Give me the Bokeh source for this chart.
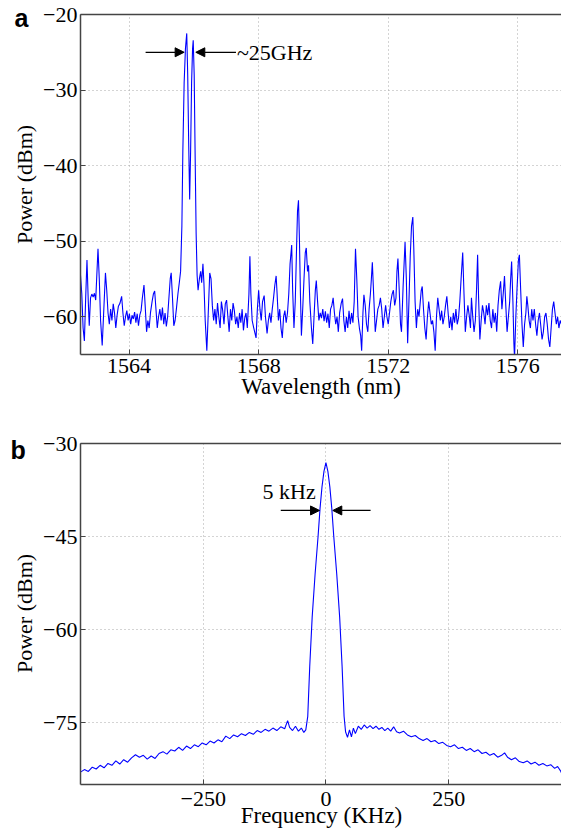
from bokeh.plotting import figure
from bokeh.layouts import column
from bokeh.models import Range1d, FixedTicker, LinearAxis, Arrow, NormalHead, Label
from bokeh.embed import file_html
from bokeh.resources import INLINE

# ---------------- panel a : optical spectrum ----------------
wl_a = [1562.50, 1562.54, 1562.58, 1562.62, 1562.66, 1562.70, 1562.74, 1562.77, 1562.81, 1562.85,
        1562.89, 1562.93, 1562.97, 1563.04, 1563.08, 1563.12, 1563.17, 1563.22, 1563.27, 1563.31,
        1563.35, 1563.39, 1563.43, 1563.47, 1563.51, 1563.55, 1563.59, 1563.63, 1563.67, 1563.72,
        1563.77, 1563.81, 1563.85, 1563.89, 1563.93, 1563.97, 1564.01, 1564.05, 1564.09, 1564.13,
        1564.17, 1564.21, 1564.25, 1564.29, 1564.33, 1564.37, 1564.41, 1564.46, 1564.50, 1564.54,
        1564.58, 1564.62, 1564.66, 1564.71, 1564.75, 1564.79, 1564.83, 1564.87, 1564.91, 1564.95,
        1564.99, 1565.03, 1565.07, 1565.11, 1565.15, 1565.19, 1565.23, 1565.27, 1565.30, 1565.34,
        1565.38, 1565.42, 1565.46, 1565.51, 1565.55, 1565.59, 1565.63, 1565.66, 1565.70, 1565.74,
        1565.78, 1565.81, 1565.84, 1565.87, 1565.90, 1565.93, 1565.96, 1565.98, 1566.01, 1566.04,
        1566.07, 1566.10, 1566.13, 1566.17, 1566.21, 1566.24, 1566.28, 1566.31, 1566.35, 1566.40,
        1566.44, 1566.49, 1566.53, 1566.57, 1566.61, 1566.65, 1566.69, 1566.73, 1566.77, 1566.81,
        1566.85, 1566.89, 1566.93, 1566.97, 1567.01, 1567.05, 1567.09, 1567.13, 1567.17, 1567.21,
        1567.25, 1567.29, 1567.33, 1567.37, 1567.41, 1567.45, 1567.49, 1567.53, 1567.57, 1567.61,
        1567.65, 1567.70, 1567.73, 1567.76, 1567.80, 1567.85, 1567.92, 1567.96, 1568.00, 1568.04,
        1568.08, 1568.12, 1568.17, 1568.21, 1568.26, 1568.30, 1568.34, 1568.38, 1568.42, 1568.46,
        1568.50, 1568.54, 1568.57, 1568.61, 1568.65, 1568.69, 1568.73, 1568.77, 1568.81, 1568.85,
        1568.89, 1568.93, 1568.97, 1569.02, 1569.05, 1569.09, 1569.13, 1569.17, 1569.20, 1569.23,
        1569.26, 1569.29, 1569.32, 1569.36, 1569.40, 1569.44, 1569.47, 1569.51, 1569.54, 1569.58,
        1569.63, 1569.67, 1569.71, 1569.75, 1569.78, 1569.82, 1569.86, 1569.90, 1569.94, 1569.98,
        1570.02, 1570.06, 1570.10, 1570.14, 1570.18, 1570.22, 1570.26, 1570.30, 1570.34, 1570.38,
        1570.42, 1570.46, 1570.50, 1570.55, 1570.59, 1570.63, 1570.67, 1570.71, 1570.75, 1570.79,
        1570.83, 1570.87, 1570.91, 1570.95, 1570.99, 1571.03, 1571.07, 1571.11, 1571.15, 1571.18,
        1571.22, 1571.25, 1571.29, 1571.33, 1571.37, 1571.41, 1571.45, 1571.48, 1571.51, 1571.55,
        1571.60, 1571.64, 1571.68, 1571.72, 1571.76, 1571.80, 1571.84, 1571.88, 1571.92, 1571.96,
        1572.00, 1572.04, 1572.08, 1572.12, 1572.16, 1572.20, 1572.24, 1572.27, 1572.30, 1572.34,
        1572.38, 1572.41, 1572.46, 1572.52, 1572.56, 1572.60, 1572.64, 1572.68, 1572.72, 1572.76,
        1572.79, 1572.83, 1572.87, 1572.91, 1572.95, 1572.99, 1573.02, 1573.05, 1573.09, 1573.13,
        1573.17, 1573.21, 1573.25, 1573.29, 1573.33, 1573.37, 1573.41, 1573.45, 1573.49, 1573.53,
        1573.57, 1573.61, 1573.65, 1573.69, 1573.73, 1573.77, 1573.81, 1573.85, 1573.89, 1573.93,
        1573.97, 1574.01, 1574.05, 1574.09, 1574.13, 1574.17, 1574.21, 1574.25, 1574.30, 1574.34,
        1574.38, 1574.42, 1574.46, 1574.50, 1574.54, 1574.57, 1574.61, 1574.65, 1574.69, 1574.73,
        1574.76, 1574.79, 1574.83, 1574.87, 1574.91, 1574.95, 1574.99, 1575.03, 1575.07, 1575.11,
        1575.15, 1575.19, 1575.23, 1575.27, 1575.31, 1575.35, 1575.39, 1575.43, 1575.47, 1575.51,
        1575.55, 1575.59, 1575.63, 1575.67, 1575.71, 1575.75, 1575.78, 1575.81, 1575.85, 1575.88,
        1575.90, 1575.94, 1575.98, 1576.02, 1576.05, 1576.09, 1576.13, 1576.17, 1576.21, 1576.25,
        1576.28, 1576.31, 1576.35, 1576.39, 1576.43, 1576.47, 1576.51, 1576.55, 1576.59, 1576.63,
        1576.67, 1576.71, 1576.75, 1576.79, 1576.83, 1576.87, 1576.91, 1576.95, 1576.99, 1577.03,
        1577.07, 1577.11, 1577.15, 1577.19, 1577.23, 1577.27, 1577.31, 1577.35]
pw_a = [-54.5, -57.0, -61.5, -63.2, -57.5, -52.5, -58.0, -61.2, -57.5, -57.0,
        -57.4, -56.9, -57.8, -51.0, -55.0, -60.5, -63.8, -59.0, -54.2, -56.5,
        -59.5, -61.0, -59.0, -60.5, -58.3, -59.5, -61.5, -59.8, -58.6, -58.2,
        -57.3, -59.5, -61.2, -60.0, -59.2, -60.5, -59.6, -61.0, -59.8, -60.3,
        -59.4, -60.8, -59.6, -61.2, -59.8, -59.2, -57.5, -55.8, -58.8, -62.0,
        -60.5, -61.5, -59.5, -58.0, -57.0, -56.6, -59.0, -61.5, -60.0, -59.0,
        -60.5, -58.8, -61.0, -59.5, -61.3, -60.0, -57.5, -55.0, -54.2, -57.5,
        -61.2, -60.5, -59.0, -56.9, -55.5, -54.0, -48.0, -38.0, -29.0, -24.5,
        -22.5, -28.0, -37.0, -44.5, -38.0, -29.0, -24.5, -23.4, -28.0, -39.0,
        -49.0, -54.5, -56.5, -55.0, -54.0, -55.5, -53.0, -55.5, -60.5, -64.5,
        -60.0, -54.2, -55.0, -58.5, -60.5, -59.0, -61.0, -58.2, -60.0, -61.5,
        -58.0, -59.2, -61.0, -58.3, -57.8, -60.0, -62.0, -59.0, -60.5, -58.2,
        -59.2, -61.0, -60.0, -61.5, -59.5, -60.8, -59.0, -61.8, -60.2, -59.5,
        -61.5, -57.0, -52.0, -57.0, -60.5, -61.5, -62.8, -59.0, -56.5, -59.0,
        -60.5, -58.0, -57.2, -60.0, -62.2, -60.5, -59.5, -60.8, -59.0, -57.5,
        -55.8, -54.6, -57.0, -60.5, -59.0, -61.5, -62.8, -60.0, -59.2, -60.8,
        -59.5, -57.0, -53.0, -50.5, -56.5, -61.5, -58.0, -51.0, -46.0, -44.6,
        -50.0, -57.0, -62.5, -59.0, -55.0, -51.5, -50.9, -54.0, -53.2, -58.0,
        -61.5, -63.6, -60.0, -56.5, -55.2, -58.0, -60.5, -59.5, -60.2, -59.0,
        -60.6, -59.3, -60.8, -59.6, -61.5, -59.0, -58.5, -57.5, -59.5, -61.0,
        -60.0, -62.0, -59.5, -58.2, -57.6, -60.5, -62.0, -60.0, -61.5, -59.2,
        -61.0, -59.5, -60.8, -58.0, -51.0, -55.0, -60.0, -61.5, -62.5, -64.5,
        -59.5, -57.1, -58.5, -61.0, -62.0, -59.0, -57.0, -55.0, -52.8, -57.0,
        -62.0, -60.5, -59.0, -58.5, -57.5, -59.0, -61.5, -60.0, -58.5, -60.0,
        -61.0, -59.5, -58.0, -57.0, -56.5, -58.5, -57.5, -54.0, -52.3, -56.5,
        -61.0, -62.0, -56.0, -50.1, -55.0, -63.5, -58.0, -52.0, -48.0, -46.8,
        -51.0, -58.0, -61.5, -59.0, -60.0, -58.0, -56.5, -56.0, -59.0, -61.5,
        -63.0, -60.0, -58.0, -59.5, -61.0, -60.5, -62.0, -64.5, -60.0, -57.5,
        -59.0, -60.5, -59.2, -61.0, -60.0, -58.5, -57.3, -59.5, -61.5, -60.0,
        -61.8, -59.5, -60.8, -59.0, -61.0, -60.2, -58.0, -55.0, -51.5, -57.0,
        -62.0, -60.0, -58.5, -59.8, -61.5, -57.5, -60.0, -62.0, -60.5, -56.0,
        -51.8, -57.5, -63.0, -60.5, -58.5, -59.5, -61.0, -58.5, -59.8, -58.2,
        -60.5, -61.5, -59.0, -60.8, -59.5, -62.0, -58.5, -56.5, -55.3, -59.0,
        -57.0, -54.6, -58.5, -62.0, -60.0, -58.0, -55.0, -52.7, -58.0, -63.5,
        -65.5, -60.0, -56.0, -52.5, -51.8, -56.5, -61.0, -64.0, -61.0, -59.5,
        -57.3, -58.5, -60.5, -61.5, -59.0, -60.5, -59.0, -61.0, -62.5, -60.5,
        -59.5, -61.2, -63.0, -62.0, -60.0, -59.5, -61.0, -63.0, -64.0, -61.5,
        -59.0, -58.0, -59.5, -61.0, -60.0, -61.5, -60.5, -61.0]
xticks_a = [1564, 1568, 1572, 1576]
xlabels_a = ["1564", "1568", "1572", "1576"]
yticks_a = [-60, -50, -40, -30, -20]
ylabels_a = ["\u221260", "\u221250", "\u221240", "\u221230", "\u221220"]

# ---------------- panel b : RF spectrum ----------------
freq_b = [-500, -492, -484, -476, -468, -460, -452, -444, -436, -428,
          -420, -412, -404, -396, -388, -380, -372, -364, -356, -348,
          -340, -332, -324, -316, -308, -300, -292, -284, -276, -268,
          -260, -252, -244, -236, -228, -220, -212, -204, -196, -188,
          -180, -172, -164, -156, -148, -140, -132, -124, -116, -108,
          -100, -92, -84, -78, -74, -68, -62, -56, -50, -45,
          -41, -37, -33, -28, -22, -16, -12, -8, -4, 0,
          4, 8, 12, 16, 22, 28, 33, 37, 40, 44,
          48, 52, 56, 60, 66, 72, 78, 84, 90, 96,
          102, 108, 114, 120, 126, 132, 138, 144, 150, 158,
          166, 174, 182, 190, 198, 206, 214, 222, 230, 238,
          246, 254, 262, 270, 278, 286, 294, 302, 310, 318,
          326, 334, 342, 350, 358, 364, 370, 378, 386, 394,
          402, 410, 418, 426, 434, 442, 450, 458, 466, 472,
          478, 482]
pw_b = [-83.0, -82.6, -82.9, -82.2, -82.5, -81.9, -82.3, -81.6, -81.9, -81.2,
        -81.7, -81.0, -81.4, -80.7, -80.2, -80.6, -80.3, -80.9, -80.4, -80.8,
        -80.0, -79.7, -80.1, -79.4, -79.6, -79.0, -79.5, -78.8, -79.2, -78.6,
        -78.9, -78.3, -78.6, -78.0, -78.3, -77.8, -78.1, -77.2, -77.6, -77.0,
        -77.3, -76.8, -77.1, -76.6, -76.9, -76.3, -76.6, -76.1, -76.4, -75.9,
        -76.3, -75.7, -76.0, -74.7, -75.8, -76.3, -75.6, -76.4, -75.9, -76.6,
        -76.2, -74.0, -66.0, -58.0, -51.0, -45.0, -40.5, -37.0, -34.5, -33.1,
        -34.5, -37.0, -40.5, -45.0, -51.0, -58.0, -66.0, -74.0, -76.5, -77.4,
        -76.2, -77.3, -75.9, -76.8, -75.6, -76.1, -75.4, -75.9, -75.5, -76.0,
        -75.6, -76.1, -75.8, -76.3, -75.9, -76.4, -75.7, -76.5, -76.7, -76.4,
        -77.0, -77.3, -77.1, -77.6, -77.9, -77.6, -78.1, -77.9, -78.4, -78.2,
        -78.7, -78.9, -78.6, -79.2, -79.0, -79.5, -79.2, -79.7, -79.4, -80.0,
        -79.8, -80.3, -80.0, -80.6, -80.3, -79.9, -80.6, -81.0, -80.7, -81.3,
        -81.5, -81.2, -81.7, -81.4, -81.9, -81.6, -82.0, -81.8, -82.4, -82.1,
        -82.8, -83.5]
xticks_b = [-250, 0, 250]
xlabels_b = ["\u2212250", "0", "250"]
yticks_b = [-75, -60, -45, -30]
ylabels_b = ["\u221275", "\u221260", "\u221245", "\u221230"]

SERIF = "Liberation Serif"
SANS = "Liberation Sans"
AXC = "#444444"
BLUE = "#0000ff"


def style(p, xt, xl, yt, yl, xlabel, xstand, xlabstand):
    p.outline_line_color = None
    p.background_fill_color = "white"
    p.border_fill_color = "white"
    p.xaxis.axis_label = xlabel
    for ax, t, l in ((p.xaxis[0], xt, xl), (p.yaxis[0], yt, yl)):
        ax.ticker = FixedTicker(ticks=t)
        ax.major_label_overrides = dict(zip(t, l))
        ax.minor_tick_line_color = None
        ax.major_tick_in = 5
        ax.major_tick_out = 0
        ax.axis_line_color = AXC
        ax.axis_line_width = 1.5
        ax.major_tick_line_color = AXC
        ax.major_label_text_font = SERIF
        ax.major_label_text_font_size = "22px"
        ax.major_label_text_color = "black"
        ax.axis_label_text_font = SERIF
        ax.axis_label_text_font_size = "23px"
        ax.axis_label_text_font_style = "normal"
        ax.axis_label_text_color = "black"
    p.xaxis[0].major_label_standoff = xstand
    p.xaxis[0].axis_label_standoff = xlabstand
    p.yaxis[0].major_label_standoff = 3
    p.xgrid[0].ticker = FixedTicker(ticks=xt)
    p.ygrid[0].ticker = FixedTicker(ticks=yt)
    for g in (p.xgrid[0], p.ygrid[0]):
        g.grid_line_color = "#a8a8a8"
        g.grid_line_dash = "1 3"
        g.grid_line_width = 1
    top = LinearAxis(ticker=FixedTicker(ticks=[]), axis_line_color=AXC, axis_line_width=1.5,
                     major_label_standoff=0, major_tick_out=0, major_tick_in=0)
    p.add_layout(top, "above")


def side_texts(p, panel_letter, lx, ly, ycenter):
    # y-axis title and panel letter, drawn in the left border (canvas pixels)
    p.add_layout(Label(x=24, y=ycenter, x_units="canvas", y_units="canvas", text="Power (dBm)",
                       angle=90, angle_units="deg", text_font=SERIF, text_font_size="22px",
                       text_align="center", text_baseline="middle", text_color="black"), "left")
    p.add_layout(Label(x=lx, y=ly, x_units="canvas", y_units="canvas", text=panel_letter,
                       text_font=SANS, text_font_style="bold", text_font_size="25px",
                       text_baseline="alphabetic", text_align="left", text_color="black"), "left")


p1 = figure(frame_width=481, frame_height=340, min_border_left=80, min_border_right=0,
            min_border_top=14, min_border_bottom=60,
            x_range=Range1d(1562.5, 1577.35), y_range=Range1d(-65, -20),
            output_backend="svg", toolbar_location=None)
style(p1, xticks_a, xlabels_a, yticks_a, ylabels_a, "Wavelength (nm)", 4, -2)
p1.line(wl_a, pw_a, line_color=BLUE, line_width=1.1)

head = dict(size=9, fill_color="black", line_color="black")
p1.add_layout(Arrow(end=NormalHead(**head), x_start=1564.51, y_start=-25, x_end=1565.70, y_end=-25,
                    line_color="black", line_width=1.3))
p1.add_layout(Arrow(end=NormalHead(**head), x_start=1567.30, y_start=-25, x_end=1566.06, y_end=-25,
                    line_color="black", line_width=1.3))
p1.add_layout(Label(x=1567.33, y=-25, text="~25GHz", text_font=SERIF, text_font_size="22px",
                    text_baseline="middle", text_align="left", text_color="black"))
side_texts(p1, "a", 14, 17, 184)

p2 = figure(frame_width=482, frame_height=341, min_border_left=79, min_border_right=0,
            min_border_top=29, min_border_bottom=46,
            x_range=Range1d(-500, 482), y_range=Range1d(-85, -30),
            output_backend="svg", toolbar_location=None)
style(p2, xticks_b, xlabels_b, yticks_b, ylabels_b, "Frequency (KHz)", 7, -6)
p2.line(freq_b, pw_b, line_color=BLUE, line_width=1.1)
p2.add_layout(Arrow(end=NormalHead(**head), x_start=-92, y_start=-40.8, x_end=-13, y_end=-40.8,
                    line_color="black", line_width=1.3))
p2.add_layout(Arrow(end=NormalHead(**head), x_start=91, y_start=-40.8, x_end=14, y_end=-40.8,
                    line_color="black", line_width=1.3))
p2.add_layout(Label(x=-129, y=-37.7, text="5 kHz", text_font=SERIF, text_font_size="22px",
                    text_baseline="middle", text_align="left", text_color="black"))
side_texts(p2, "b", 10, 35, 199)

layout = column(p1, p2)
open("out.html", "w").write(file_html(layout, INLINE))
